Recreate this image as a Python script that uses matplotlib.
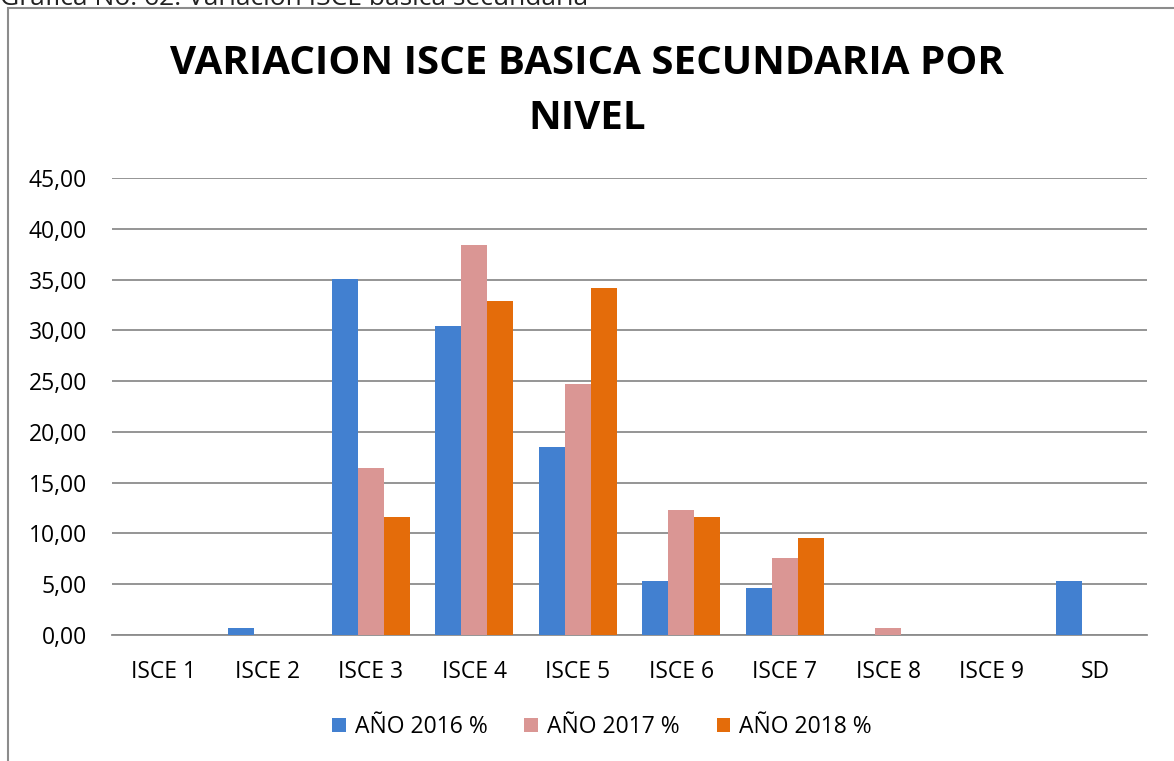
import numpy as np
import matplotlib
matplotlib.use("Agg")
from matplotlib import pyplot as plt
from matplotlib.patches import Rectangle
from matplotlib.ticker import FuncFormatter

# datos
categorias = ['ISCE 1', 'ISCE 2', 'ISCE 3', 'ISCE 4', 'ISCE 5',
              'ISCE 6', 'ISCE 7', 'ISCE 8', 'ISCE 9', 'SD']
anio_2016 = [0.0, 0.69, 35.1, 30.46, 18.5, 5.28, 4.63, 0.0, 0.0, 5.3]
anio_2017 = [0.0, 0.0, 16.4, 38.4, 24.7, 12.3, 7.55, 0.69, 0.0, 0.0]
anio_2018 = [0.0, 0.0, 11.65, 32.9, 34.2, 11.65, 9.58, 0.0, 0.0, 0.0]
series = ['AÑO 2016 %', 'AÑO 2017 %', 'AÑO 2018 %']
colores = ['#4280D0', '#DA9694', '#E46C0A']

plt.rcParams['font.family'] = ['Open Sans', 'DejaVu Sans']

fig = plt.figure(figsize=(11.74, 7.61), dpi=100)
ax = fig.add_axes([112 / 1174, 1 - 635 / 761, (1147 - 112) / 1174, (635 - 178) / 761])

x = np.arange(len(categorias))
ancho = 0.252
for i, (datos, nombre, color) in enumerate(zip([anio_2016, anio_2017, anio_2018], series, colores)):
    ax.bar(x + (i - 1) * ancho, datos, ancho, color=color, label=nombre, zorder=3,
           linewidth=0)

ax.set_ylim(0, 45)
ax.set_xlim(-0.5, len(categorias) - 0.5)
ax.set_yticks(np.arange(0, 46, 5))
ax.yaxis.set_major_formatter(FuncFormatter(lambda v, p: f'{v:.2f}'.replace('.', ',')))
ax.set_xticks(x)
ax.set_xticklabels(categorias)
ax.grid(axis='y', color='#8C8C8C', linewidth=1.3, zorder=0)
for s in ['top', 'right', 'left']:
    ax.spines[s].set_visible(False)
ax.spines['bottom'].set_color('#8C8C8C')
ax.spines['bottom'].set_linewidth(1.3)
ax.tick_params(axis='both', length=0, labelsize=16.5, colors='black')
ax.tick_params(axis='x', pad=18)
ax.tick_params(axis='y', pad=18)

fig.text(0.5, 1 - 91 / 761, 'VARIACION ISCE BASICA SECUNDARIA POR\nNIVEL', ha='center',
         va='center', fontsize=29, fontweight='bold', linespacing=1.55)
fig.text(0.0, 1 - 5 / 761, 'Gráfica No. 62. Variación ISCE básica secundaria', ha='left',
         va='baseline', fontsize=19, color='#222222')

fig.legend(loc='center', bbox_to_anchor=(0.5 + 15 / 1174, 1 - 727 / 761), ncol=3,
           frameon=False, fontsize=16.5, handlelength=0.6, handleheight=0.6,
           columnspacing=1.6, handletextpad=0.4)

fig.patches.append(Rectangle((8 / 1174, -0.1), 1.2, 1 - 8 / 761 + 0.1,
                             transform=fig.transFigure, fill=False,
                             edgecolor='#8C8C8C', linewidth=1.5))

fig.savefig('out.png', dpi=100)
